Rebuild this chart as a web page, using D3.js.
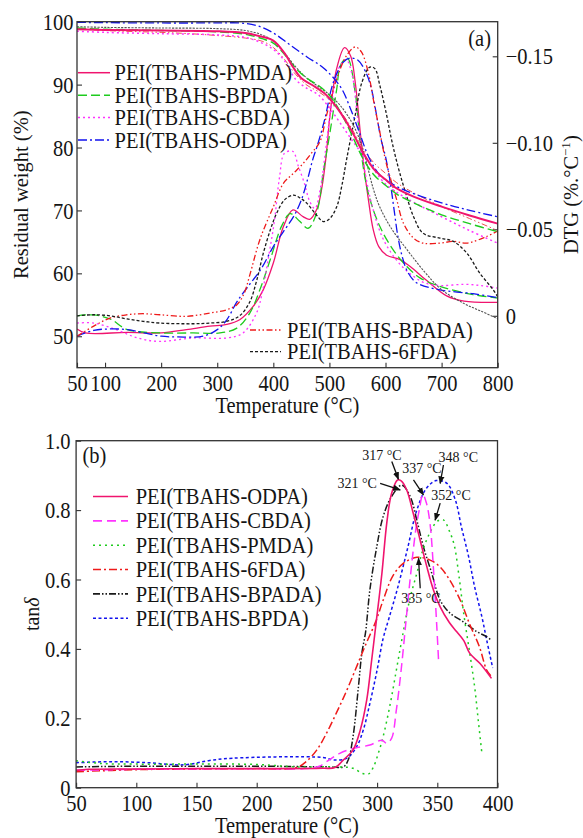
<!DOCTYPE html>
<html><head><meta charset="utf-8">
<script src="https://cdn.jsdelivr.net/npm/d3@7"></script>
<style>
body{margin:0;background:#fff}
svg{display:block}
text{font-family:"Liberation Serif","Times New Roman",serif;fill:#151515}
</style>
</head><body>
<svg id="c" width="583" height="838"></svg>
<script>
// ---------------- DATA: panel (a) TG (residual weight %) ----------------
const tgPMDA = [[50,98.8],[100,98.7],[200,98.6],[300,98.5],[350,98.2],[380,97.6],[400,97.0],[420,95.0],[435,92.8],[450,91.0],[470,89.9],[490,88.7],[505,87.3],[520,85.5],[540,82.6],[560,79.2],[580,76.5],[600,74.9],[620,73.5],[650,72.2],[700,70.6],[750,69.2],[800,67.9]];
const tgBPDA = [[50,99.0],[100,98.8],[200,98.6],[300,98.4],[350,98.0],[380,97.3],[400,96.6],[420,94.8],[440,92.6],[460,91.0],[480,89.9],[500,88.3],[520,85.6],[540,82.0],[560,78.2],[580,75.6],[600,74.0],[620,72.6],[650,71.2],[700,69.3],[750,67.9],[800,66.6]];
const tgCBDA = [[50,98.5],[100,98.3],[200,98.1],[300,97.9],[350,97.5],[380,96.6],[400,95.6],[420,93.8],[440,90.8],[460,89.4],[480,88.4],[500,86.3],[520,83.8],[540,81.2],[560,78.8],[580,76.4],[600,74.2],[640,71.8],[700,69.0],[750,66.8],[800,64.8]];
const tgODPA = [[50,99.9],[100,99.85],[200,99.8],[300,99.8],[340,99.8],[370,99.4],[400,98.2],[430,96.3],[460,94.4],[490,92.6],[520,89.6],[537,86.3],[555,82.0],[570,78.5],[590,75.6],[610,74.3],[640,73.0],[700,71.2],[750,70.0],[800,69.0]];
const tgBPADA = [[50,98.9],[100,98.6],[200,98.3],[250,98.1],[300,97.8],[350,97.4],[380,96.9],[400,95.9],[420,94.0],[440,91.6],[460,89.9],[480,88.9],[500,87.6],[520,85.7],[540,83.0],[560,79.8],[580,77.5],[600,75.9],[620,74.4],[650,72.8],[700,70.6],[750,68.7],[800,66.8]];
const tg6FDA = [[50,99.2],[100,99.1],[200,99.0],[300,98.9],[350,98.6],[380,97.9],[400,96.9],[420,95.0],[440,92.8],[460,91.0],[480,89.7],[500,88.4],[520,86.6],[540,84.0],[555,81.0],[565,78.0],[578,73.5],[590,70.5],[610,67.2],[638,63.8],[670,60.2],[700,57.4],[740,55.2],[770,54.0],[800,52.8]];

// ---------------- DATA: panel (a) DTG (%/°C) ----------------
const dtgPMDA = [[50,0.0076],[65,0.0099],[140,0.0096],[200,0.0099],[245,0.008],[287,0.006],[317,0.005],[340,0.0023],[364,-0.0054],[382,-0.015],[400,-0.0305],[418,-0.0516],[435,-0.0612],[453,-0.0573],[465,-0.0558],[478,-0.062],[487,-0.075],[494,-0.092],[501,-0.116],[513,-0.143],[527,-0.155],[538,-0.150],[546,-0.135],[555,-0.106],[562,-0.085],[570,-0.066],[578,-0.050],[588,-0.040],[602,-0.035],[626,-0.0325],[644,-0.0285],[673,-0.0205],[709,-0.0115],[740,-0.0085],[800,-0.0078]];
const dtgBPDA = [[50,0.0],[80,-0.0005],[110,0.002],[140,0.008],[200,0.0099],[257,0.0099],[305,0.0099],[335,0.0071],[358,-0.0016],[376,-0.015],[395,-0.033],[415,-0.052],[430,-0.059],[446,-0.055],[462,-0.0506],[477,-0.0593],[490,-0.085],[501,-0.106],[513,-0.131],[520,-0.145],[532,-0.149],[546,-0.129],[552,-0.110],[558,-0.091],[570,-0.07],[590,-0.0516],[614,-0.038],[638,-0.0285],[662,-0.0218],[697,-0.017],[756,-0.0122],[800,-0.0103]];
const dtgCBDA = [[50,0.0042],[80,0.0042],[120,0.008],[160,0.013],[198,0.0148],[257,0.0128],[317,0.0128],[346,0.0099],[370,-0.0016],[380,-0.013],[392,-0.035],[402,-0.055],[411,-0.080],[420,-0.094],[435,-0.095],[444,-0.087],[455,-0.077],[465,-0.066],[474,-0.062],[484,-0.074],[494,-0.098],[505,-0.125],[518,-0.144],[530,-0.148],[540,-0.140],[550,-0.115],[560,-0.090],[575,-0.065],[595,-0.045],[620,-0.032],[645,-0.024],[670,-0.019],[700,-0.0175],[740,-0.0182],[770,-0.0175],[800,-0.016]];
const dtgODPA = [[50,0.0118],[80,0.0084],[110,0.0076],[140,0.008],[170,0.0099],[200,0.0118],[230,0.0122],[275,0.0118],[300,0.008],[317,0.0023],[335,-0.008],[355,-0.017],[378,-0.027],[400,-0.04],[418,-0.0487],[436,-0.0573],[450,-0.067],[462,-0.080],[470,-0.090],[480,-0.100],[492,-0.114],[507,-0.135],[525,-0.1467],[537,-0.149],[551,-0.1477],[566,-0.14],[575,-0.131],[584,-0.116],[592,-0.102],[600,-0.092],[608,-0.078],[615,-0.062],[622,-0.046],[630,-0.034],[640,-0.025],[656,-0.019],[697,-0.015],[756,-0.0128],[800,-0.0105]];
const dtgBPADA = [[50,0.0118],[79,0.0061],[109,0.0013],[139,-0.0006],[168,-0.0012],[198,-0.0006],[245,0.0003],[287,-0.0016],[317,-0.0035],[335,-0.0064],[348,-0.013],[358,-0.0235],[376,-0.044],[400,-0.063],[418,-0.0766],[436,-0.0824],[453,-0.088],[468,-0.094],[483,-0.1006],[495,-0.116],[513,-0.137],[531,-0.1506],[546,-0.1554],[557,-0.1525],[569,-0.141],[578,-0.1256],[590,-0.106],[600,-0.090],[610,-0.078],[620,-0.067],[632,-0.0535],[650,-0.0449],[667,-0.042],[697,-0.042],[721,-0.043],[745,-0.042],[780,-0.0458],[800,-0.049]];
const dtg6FDA = [[50,0.0],[79,-0.0006],[109,0.0],[139,0.0018],[168,0.0032],[198,0.0042],[257,0.0046],[287,0.0042],[317,0.0032],[340,0.0],[358,-0.008],[370,-0.02],[382,-0.036],[395,-0.05],[406,-0.0593],[420,-0.067],[436,-0.0698],[448,-0.068],[460,-0.065],[475,-0.059],[489,-0.0545],[500,-0.056],[513,-0.063],[522,-0.075],[531,-0.091],[546,-0.116],[558,-0.135],[572,-0.1438],[581,-0.1429],[590,-0.133],[602,-0.116],[610,-0.103],[617,-0.093],[625,-0.083],[635,-0.072],[650,-0.0573],[667,-0.0477],[697,-0.0449],[721,-0.043],[745,-0.0362],[768,-0.0247],[792,-0.015],[800,-0.011]];

// ---------------- DATA: panel (b) tan delta ----------------
const tanODPA = [[50,0.05],[60,0.053],[100,0.054],[150,0.055],[200,0.055],[255,0.056],[265,0.058],[272,0.08],[280,0.109],[286,0.166],[291.4,0.253],[295.5,0.368],[299,0.47],[304,0.618],[308,0.762],[312,0.848],[317,0.887],[320,0.884],[324.6,0.858],[330,0.791],[335.7,0.714],[341.3,0.637],[346.8,0.570],[352.3,0.522],[360,0.476],[366,0.45],[372,0.424],[377,0.387],[385.5,0.358],[395,0.315]];
const tanCBDA = [[50,0.05],[100,0.053],[150,0.054],[200,0.055],[240,0.055],[252,0.062],[258,0.075],[269,0.099],[280,0.113],[294,0.123],[304,0.137],[308,0.128],[312,0.142],[316,0.224],[320,0.34],[324,0.48],[328,0.62],[332,0.74],[335,0.80],[338,0.845],[341,0.82],[344,0.76],[347,0.62],[349.5,0.47],[351,0.37]];
const tanPMDA = [[50,0.078],[70,0.07],[100,0.068],[150,0.068],[200,0.067],[233,0.06],[269,0.06],[280,0.056],[288,0.041],[293,0.04],[297,0.06],[301,0.099],[305,0.147],[311,0.243],[316,0.339],[321,0.435],[327,0.541],[333,0.618],[338,0.685],[345,0.743],[350,0.768],[355,0.772],[360,0.74],[364,0.70],[368,0.61],[372,0.50],[377,0.387],[381,0.291],[384,0.195],[387,0.10]];
const tan6FDA = [[50,0.046],[100,0.052],[150,0.054],[200,0.055],[233,0.058],[241,0.075],[250,0.109],[258,0.157],[266,0.214],[275,0.282],[283,0.349],[291,0.416],[299,0.48],[305,0.54],[313,0.61],[322,0.647],[333,0.664],[344,0.656],[352,0.637],[360,0.60],[369,0.541],[377,0.47],[385,0.406],[391,0.339],[395,0.32]];
const tanBPADA = [[50,0.06],[100,0.062],[150,0.062],[200,0.062],[261,0.06],[272,0.06],[276,0.08],[280,0.147],[284.5,0.291],[287.3,0.387],[290.5,0.45],[294,0.57],[299.7,0.694],[305,0.781],[312,0.839],[320.5,0.872],[327.5,0.839],[333,0.771],[338.5,0.694],[345.4,0.618],[352.3,0.541],[360.6,0.503],[371.7,0.478],[382.8,0.45],[391,0.435],[395,0.425]];
const tanBPDA = [[50,0.072],[80,0.075],[110,0.072],[140,0.066],[160,0.078],[180,0.085],[255,0.087],[264,0.08],[275,0.085],[283,0.118],[288.5,0.166],[294,0.243],[300,0.339],[305,0.43],[310,0.49],[317,0.575],[325,0.685],[333,0.80],[341,0.863],[349,0.885],[358,0.877],[365,0.829],[370,0.752],[376,0.666],[381,0.579],[387,0.493],[391,0.426],[396,0.345]];

// peak annotations (b): label, text position (T, tanδ), arrow from, arrow to
const peakLabels = ["317 °C","321 °C","337 °C","348 °C","352 °C","335 °C"];
const peakText = [[304,0.944],[283.4,0.864],[337.2,0.907],[367.4,0.939],[361.4,0.829],[336.4,0.532]];
const peakFrom = [[312.2,0.94],[302.5,0.877],[330.2,0.887],[355.1,0.93],[352.4,0.82],[335.8,0.575]];
const peakTo   = [[317.7,0.889],[319.2,0.858],[338.5,0.844],[352.4,0.877],[348.2,0.771],[334.4,0.661]];

// ticks
const xTicksA = [50,100,200,300,400,500,600,700,800];
const yTicksA = [50,60,70,80,90,100];
const dTicksA = [0,-0.05,-0.10,-0.15];
const xTicksB = [50,100,150,200,250,300,350,400];
const yTicksB = [0,0.2,0.4,0.6,0.8,1.0];

// ---------------- STYLES ----------------
const C = {crim:"#F0146E", green:"#1ECB1E", mag:"#FF33FF", blue:"#1212EE", red:"#EE1A1A", blk:"#1a1a1a"};
const SY = 1.1; // glyph vertical stretch of reference
const FS = 20.5;

const svg = d3.select("#c");
const defs = svg.append("defs");
defs.append("marker").attr("id","arr").attr("viewBox","0 0 10 10").attr("refX",9).attr("refY",5)
  .attr("markerWidth",6).attr("markerHeight",6).attr("orient","auto")
  .append("path").attr("d","M0,1 L10,5 L0,9 Z").attr("fill","#111");

function label(g,x,y,s,size,anchor){
  return g.append("text").attr("transform",`translate(${x},${y}) scale(1,${SY})`)
    .attr("text-anchor",anchor||"start").style("font-size",size+"px").text(s);
}
function fixBottom(ax, base){
  ax.selectAll("text").attr("y",0).attr("dy",null).attr("transform",`translate(0,${base}) scale(1,${SY})`).style("font-size",FS+"px").style("font-family",null);
}
function fixSide(ax, dx, anchor){
  ax.selectAll("text").attr("x",0).attr("y",0).attr("dy",null).attr("text-anchor",anchor)
    .attr("transform",`translate(${dx},7.6) scale(1,${SY})`).style("font-size",FS+"px").style("font-family",null);
}
function styleAxis(ax){
  ax.select(".domain").remove();
  ax.selectAll("line").attr("stroke","#333").attr("stroke-width",1.1);
  ax.attr("font-family",null).attr("font-size",null);
}

// ================= PANEL (a) =================
const A = {l:77, r:497.7, t:21.7, b:367.7};
const xA = d3.scaleLinear([50,800],[A.l,A.r]);
const yA = d3.scaleLinear([45,100],[A.b,A.t]);
const yD = d3.scaleLinear([0.03,-0.17],[A.b,A.t]);
const gA = svg.append("g");
defs.append("clipPath").attr("id","clipA").append("rect").attr("x",A.l).attr("y",A.t).attr("width",A.r-A.l).attr("height",A.b-A.t);

const axAx = gA.append("g").attr("transform",`translate(0,${A.b})`)
  .call(d3.axisBottom(xA).tickValues(xTicksA).tickSize(-5).tickSizeOuter(0).tickFormat(d3.format("d")));
styleAxis(axAx); fixBottom(axAx,23);
const axAy = gA.append("g").attr("transform",`translate(${A.l},0)`)
  .call(d3.axisLeft(yA).tickValues(yTicksA).tickSize(-5).tickSizeOuter(0).tickFormat(d3.format("d")));
styleAxis(axAy); fixSide(axAy,-3.5,"end");
const axAd = gA.append("g").attr("transform",`translate(${A.r},0)`)
  .call(d3.axisRight(yD).tickValues(dTicksA).tickSize(-5).tickSizeOuter(0).tickFormat(d=> d===0?"0":d3.format(".2f")(d)));
styleAxis(axAd); fixSide(axAd,8,"start");

const lineTG = d3.line().x(d=>xA(d[0])).y(d=>yA(d[1])).curve(d3.curveCatmullRom.alpha(0.5));
const lineDTG = d3.line().x(d=>xA(d[0])).y(d=>yD(d[1])).curve(d3.curveCatmullRom.alpha(0.5));

const seriesA = [
  {name:"PEI(TBAHS-PMDA)",  tg:tgPMDA,  dtg:dtgPMDA,  color:C.crim,  dash:null, tgW:2.0, tgColor:C.crim},
  {name:"PEI(TBAHS-BPDA)",  tg:tgBPDA,  dtg:dtgBPDA,  color:C.green, dash:"9,4", tgW:1.4, tgColor:C.green},
  {name:"PEI(TBAHS-CBDA)",  tg:tgCBDA,  dtg:dtgCBDA,  color:C.mag,   dash:"2,3", tgW:1.5, tgColor:C.mag},
  {name:"PEI(TBAHS-ODPA)",  tg:tgODPA,  dtg:dtgODPA,  color:C.blue,  dash:"9,3,2,3", tgW:1.3, tgColor:C.blue},
  {name:"PEI(TBAHS-BPADA)", tg:tgBPADA, dtg:dtgBPADA, color:C.red,   dash:"6,2.5,1.5,2.5,1.5,2.5", tgW:1.0, tgColor:"#F05050"},
  {name:"PEI(TBAHS-6FDA)",  tg:tg6FDA,  dtg:dtg6FDA,  color:C.blk,   dash:"3,2", tgW:1.1, tgColor:"#555"}
];
const plotA = gA.append("g").attr("clip-path","url(#clipA)");
seriesA.forEach(s=>{
  plotA.append("path").attr("d",lineDTG(s.dtg)).attr("fill","none").attr("stroke",s.color)
    .attr("stroke-width",1.3).attr("stroke-dasharray",s.dash);
});
seriesA.slice().reverse().forEach(s=>{
  plotA.append("path").attr("d",lineTG(s.tg)).attr("fill","none").attr("stroke",s.tgColor)
    .attr("stroke-width",s.tgW).attr("stroke-dasharray",s.name.includes("6FDA")?"2.2,1.2":s.dash);
});
gA.append("rect").attr("x",A.l).attr("y",A.t).attr("width",A.r-A.l).attr("height",A.b-A.t)
  .attr("fill","none").attr("stroke","#333").attr("stroke-width",1.3);

// legends (a)
const legA1 = gA.append("g");
seriesA.slice(0,4).forEach((s,i)=>{
  const y = 72.7 + i*22.45;
  legA1.append("line").attr("x1",78).attr("x2",110).attr("y1",y).attr("y2",y)
    .attr("stroke",s.color).attr("stroke-width",1.5).attr("stroke-dasharray",s.dash);
  label(legA1,114.5,y+7.6,s.name,FS);
});
seriesA.slice(4).forEach((s,i)=>{
  const y = 330 + i*21.7;
  legA1.append("line").attr("x1",250).attr("x2",281).attr("y1",y).attr("y2",y)
    .attr("stroke",s.color).attr("stroke-width",1.3).attr("stroke-dasharray",s.dash);
  label(legA1,287,y+7.6,s.name,FS);
});
label(gA,491,46,"(a)",FS,"end");
label(gA,(A.l+A.r)/2,412.5,"Temperature (°C)",FS,"middle");
gA.append("text").attr("transform",`translate(27.5,${(A.t+A.b)/2}) rotate(-90)`).attr("text-anchor","middle")
  .style("font-size","20.5px").text("Residual weight (%)");
const dtgT = gA.append("text").attr("transform",`translate(578,${(A.t+A.b)/2}) rotate(-90)`).attr("text-anchor","middle")
  .style("font-size","20.5px");
dtgT.append("tspan").text("DTG (%.°C");
dtgT.append("tspan").attr("dy",-8).style("font-size","13px").text("−1");
dtgT.append("tspan").attr("dy",8).text(")");

// ================= PANEL (b) =================
const B = {l:76.1, r:497.5, t:440.7, b:787.7};
const xB = d3.scaleLinear([50,400],[B.l,B.r]);
const yB = d3.scaleLinear([0,1],[B.b,B.t]);
const gB = svg.append("g");
defs.append("clipPath").attr("id","clipB").append("rect").attr("x",B.l).attr("y",B.t).attr("width",B.r-B.l).attr("height",B.b-B.t);

const axBx = gB.append("g").attr("transform",`translate(0,${B.b})`)
  .call(d3.axisBottom(xB).tickValues(xTicksB).tickSize(-5).tickSizeOuter(0).tickFormat(d3.format("d")));
styleAxis(axBx); fixBottom(axBx,23);
const axBy = gB.append("g").attr("transform",`translate(${B.l},0)`)
  .call(d3.axisLeft(yB).tickValues(yTicksB).tickSize(-5).tickSizeOuter(0).tickFormat(d=> d===0?"0":d3.format(".1f")(d)));
styleAxis(axBy); fixSide(axBy,-5.5,"end");

const lineB = d3.line().x(d=>xB(d[0])).y(d=>yB(d[1])).curve(d3.curveCatmullRom.alpha(0.5));
const seriesB = [
  {name:"PEI(TBAHS-ODPA)",  data:tanODPA,  color:C.crim,  dash:null},
  {name:"PEI(TBAHS-CBDA)",  data:tanCBDA,  color:C.mag,   dash:"9,5"},
  {name:"PEI(TBAHS-PMDA)",  data:tanPMDA,  color:C.green, dash:"2,4"},
  {name:"PEI(TBAHS-6FDA)",  data:tan6FDA,  color:C.red,   dash:"8,3,2,3"},
  {name:"PEI(TBAHS-BPADA)", data:tanBPADA, color:C.blk,   dash:"7,2,1.5,2,1.5,2"},
  {name:"PEI(TBAHS-BPDA)",  data:tanBPDA,  color:C.blue,  dash:"3,2.5"}
];
const plotB = gB.append("g").attr("clip-path","url(#clipB)");
seriesB.slice().reverse().forEach(s=>{
  plotB.append("path").attr("d",lineB(s.data)).attr("fill","none").attr("stroke",s.color)
    .attr("stroke-width",s.dash? 1.5:1.6).attr("stroke-dasharray",s.dash);
});
gB.append("rect").attr("x",B.l).attr("y",B.t).attr("width",B.r-B.l).attr("height",B.b-B.t)
  .attr("fill","none").attr("stroke","#333").attr("stroke-width",1.3);

const legB = gB.append("g");
seriesB.forEach((s,i)=>{
  const y = 496.5 + i*24.35;
  legB.append("line").attr("x1",93).attr("x2",128).attr("y1",y).attr("y2",y)
    .attr("stroke",s.color).attr("stroke-width",1.6).attr("stroke-dasharray",s.dash);
  label(legB,135.7,y+7.6,s.name,FS);
});
label(gB,82.5,463,"(b)",FS);
label(gB,(B.l+B.r)/2,833,"Temperature (°C)",FS,"middle");
const tanT = gB.append("text").attr("transform",`translate(38.5,${(B.t+B.b)/2}) rotate(-90)`).attr("text-anchor","middle")
  .style("font-size","20px");
tanT.append("tspan").text("tan");
tanT.append("tspan").style("font-style","italic").text("δ");

// annotations
const annG = gB.append("g");
peakLabels.forEach((s,i)=>{
  label(annG, xB(peakText[i][0]), yB(peakText[i][1]), s, 14, "middle");
  annG.append("line").attr("x1",xB(peakFrom[i][0])).attr("y1",yB(peakFrom[i][1]))
    .attr("x2",xB(peakTo[i][0])).attr("y2",yB(peakTo[i][1]))
    .attr("stroke","#111").attr("stroke-width",1.3).attr("marker-end","url(#arr)");
});
</script>
</body></html>
